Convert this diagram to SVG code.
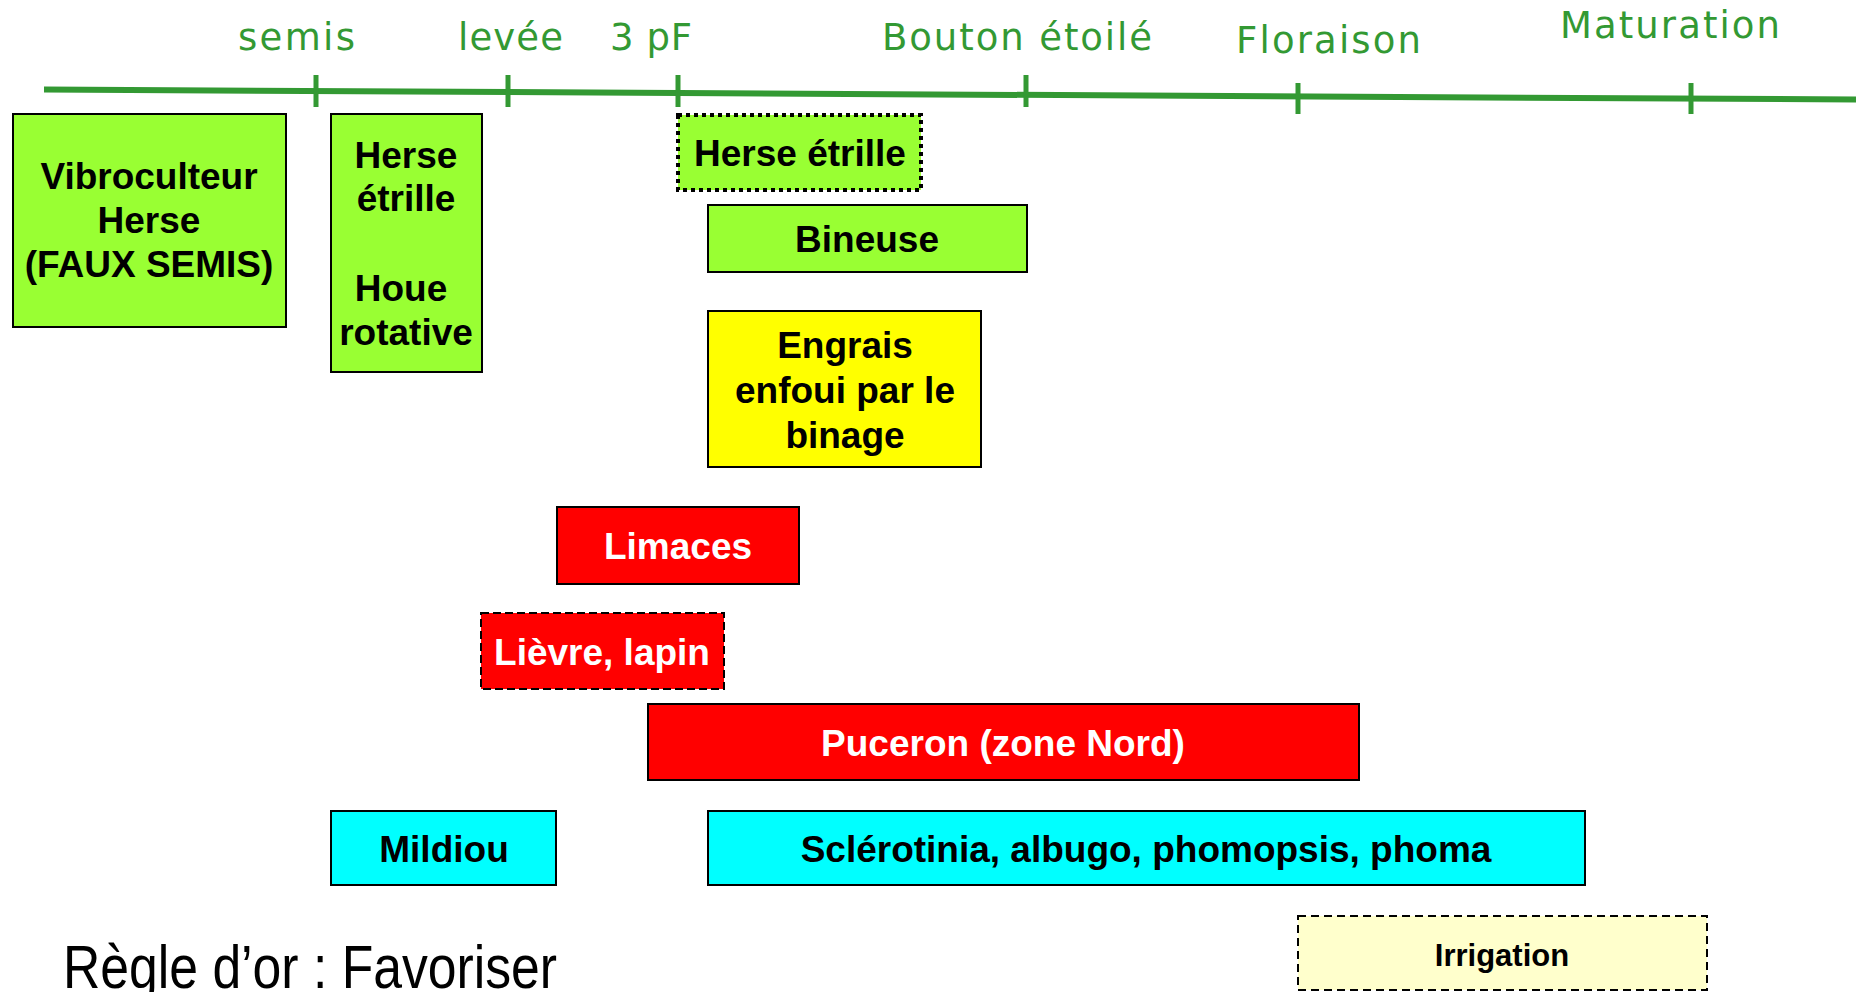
<svg xmlns="http://www.w3.org/2000/svg" width="1856" height="992" viewBox="0 0 1856 992">
<style>
.lbl{font-family:"DejaVu Sans",Verdana,sans-serif;font-size:37px;fill:#339933}
.box{stroke:#000;stroke-width:2}
.t{font-family:"Liberation Sans",Arial,sans-serif;font-weight:bold;font-size:37px;text-anchor:middle;fill:#000}
.w{fill:#fff}
.green{fill:#99ff33}
.yellow{fill:#ffff00}
.red{fill:#ff0000}
.cyan{fill:#00ffff}
.pale{fill:#ffffcc}
.tick{stroke:#339933;stroke-width:5}
</style>
<rect width="1856" height="992" fill="#fff"/>
<g id="timeline">
  <line x1="44" y1="89.5" x2="1856" y2="99.5" stroke="#339933" stroke-width="6"/>
  <line class="tick" x1="316" y1="75" x2="316" y2="107"/>
  <line class="tick" x1="508" y1="75" x2="508" y2="107"/>
  <line class="tick" x1="678" y1="75" x2="678" y2="107"/>
  <line class="tick" x1="1026" y1="75" x2="1026" y2="107"/>
  <line class="tick" x1="1298" y1="83" x2="1298" y2="114"/>
  <line class="tick" x1="1691" y1="83" x2="1691" y2="114"/>
  <text class="lbl" x="238" y="50" textLength="117" lengthAdjust="spacing">semis</text>
  <text class="lbl" x="458" y="50" textLength="105" lengthAdjust="spacing">levée</text>
  <text class="lbl" x="610" y="50" textLength="82" lengthAdjust="spacing">3 pF</text>
  <text class="lbl" x="882" y="50" textLength="270" lengthAdjust="spacing">Bouton étoilé</text>
  <text class="lbl" x="1236" y="53" textLength="185" lengthAdjust="spacing">Floraison</text>
  <text class="lbl" x="1560" y="38" textLength="220" lengthAdjust="spacing">Maturation</text>
</g>
<g id="connectors"></g>
<g id="vibroculteur">
  <rect class="box green" x="13" y="114" width="273" height="213"/>
  <text class="t" x="149" y="189">Vibroculteur</text>
  <text class="t" x="149" y="233">Herse</text>
  <text class="t" x="149" y="277">(FAUX SEMIS)</text>
</g>
<g id="herse-houe">
  <rect class="box green" x="331" y="114" width="151" height="258"/>
  <text class="t" x="406" y="168">Herse</text>
  <text class="t" x="406" y="211">étrille</text>
  <text class="t" x="401" y="301">Houe</text>
  <text class="t" x="406" y="345">rotative</text>
</g>
<g id="herse-etrille">
  <rect class="green" x="678" y="115" width="243" height="75" stroke="#000" stroke-width="4" stroke-dasharray="4 4"/>
  <text class="t" x="800" y="166">Herse étrille</text>
</g>
<g id="bineuse">
  <rect class="box green" x="708" y="205" width="319" height="67"/>
  <text class="t" x="867" y="252">Bineuse</text>
</g>
<g id="engrais">
  <rect class="box yellow" x="708" y="311" width="273" height="156"/>
  <text class="t" x="845" y="358">Engrais</text>
  <text class="t" x="845" y="403">enfoui par le</text>
  <text class="t" x="845" y="448">binage</text>
</g>
<g id="limaces">
  <rect class="box red" x="557" y="507" width="242" height="77"/>
  <text class="t w" x="678" y="559">Limaces</text>
</g>
<g id="lievre">
  <rect class="red" x="481" y="613" width="243" height="76" stroke="#000" stroke-width="2" stroke-dasharray="8 4"/>
  <text class="t w" x="602" y="665">Lièvre, lapin</text>
</g>
<g id="puceron">
  <rect class="box red" x="648" y="704" width="711" height="76"/>
  <text class="t w" x="1003" y="756">Puceron (zone Nord)</text>
</g>
<g id="mildiou">
  <rect class="box cyan" x="331" y="811" width="225" height="74"/>
  <text class="t" x="444" y="862">Mildiou</text>
</g>
<g id="sclerotinia">
  <rect class="box cyan" x="708" y="811" width="877" height="74"/>
  <text class="t" x="1146" y="862">Sclérotinia, albugo, phomopsis, phoma</text>
</g>
<g id="irrigation">
  <rect class="pale" x="1298" y="916" width="409" height="74" stroke="#000" stroke-width="2" stroke-dasharray="8 5"/>
  <text class="t" x="1502" y="966" style="font-size:31px">Irrigation</text>
</g>
<g id="regle">
  <text x="63" y="988" font-family="'Liberation Sans',Arial,sans-serif" font-size="62" fill="#000" textLength="494" lengthAdjust="spacingAndGlyphs">Règle d’or : Favoriser</text>
</g>
</svg>
